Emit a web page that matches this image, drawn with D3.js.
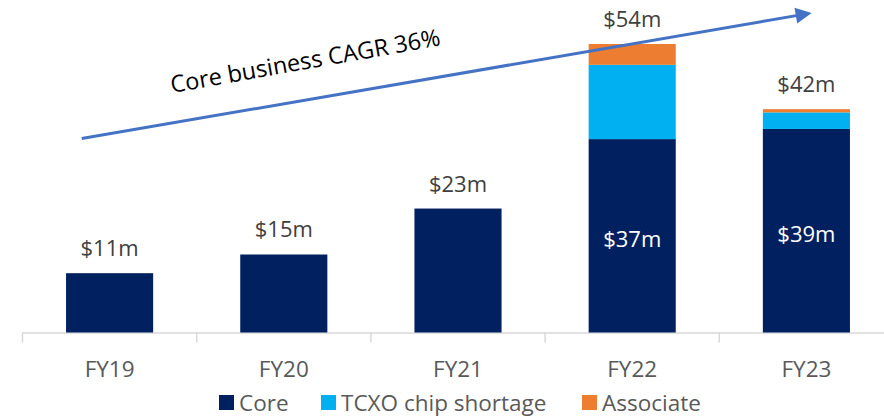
<!DOCTYPE html>
<html>
<head>
<meta charset="utf-8">
<script src="https://cdn.jsdelivr.net/npm/d3@7"></script>
<style>
  html, body { margin: 0; padding: 0; background: #fff; }
  svg { display: block; font-family: 'Segoe UI', 'Open Sans', sans-serif; }
</style>
</head>
<body>
<svg id="chart" width="884" height="418"></svg>
<script>
const categories = ["FY19", "FY20", "FY21", "FY22", "FY23"];
const coreValues = [11.1, 14.6, 23.2, 36.2, 38.1];
const tcxoValues = [0, 0, 0, 13.9, 3.1];
const associateValues = [0, 0, 0, 3.9, 0.6];
const totalLabels = ["$11m", "$15m", "$23m", "$54m", "$42m"];
const coreLabels = ["", "", "", "$37m", "$39m"];
const seriesNames = ["Core", "TCXO chip shortage", "Associate"];
const seriesColors = ["#002060", "#00B0F0", "#ED7D31"];
const annotationText = "Core business CAGR 36%";
// arrow endpoints in data units: [category index, value]
const arrowStart = [-0.16, 36.3];
const arrowEnd = [4.03, 59.8];

const svg = d3.select("#chart");
const baseY = 332.5;
const x = d3.scaleBand().domain(categories).range([22.5, 893.5]).paddingInner(0.5).paddingOuter(0.25);
const y = d3.scaleLinear().domain([0, 54]).range([baseY, 44]);
const xi = d3.scaleLinear().domain([0, 4]).range([x(categories[0]) + x.bandwidth() / 2, x(categories[4]) + x.bandwidth() / 2]);

const rows = categories.map((c, i) => ({ cat: c, Core: coreValues[i], "TCXO chip shortage": tcxoValues[i], Associate: associateValues[i] }));
const stacked = d3.stack().keys(seriesNames)(rows);

// axis line & ticks
const axisG = svg.append("g");
axisG.append("line").attr("x1", x.range()[0]).attr("x2", 884).attr("y1", baseY + 0.5).attr("y2", baseY + 0.5)
  .attr("stroke", "#D9D9D9").attr("stroke-width", 1.5);
const bounds = d3.range(categories.length + 1).map(i => x.range()[0] + i * x.step());
axisG.selectAll("line.tick").data(bounds).join("line").attr("class", "tick")
  .attr("x1", d => d).attr("x2", d => d).attr("y1", baseY).attr("y2", baseY + 10)
  .attr("stroke", "#D9D9D9").attr("stroke-width", 1.5);
axisG.selectAll("text.cat").data(categories).join("text").attr("class", "cat")
  .attr("x", d => x(d) + x.bandwidth() / 2).attr("y", 377)
  .attr("text-anchor", "middle").attr("font-size", 22.5).attr("fill", "#595959").text(d => d);

// bars
stacked.forEach((s, si) => {
  svg.append("g").selectAll("rect").data(s).join("rect")
    .attr("x", d => x(d.data.cat)).attr("width", x.bandwidth())
    .attr("y", d => y(d[1])).attr("height", d => Math.max(0, y(d[0]) - y(d[1])))
    .attr("fill", seriesColors[si]);
});

// total labels
const totals = categories.map((c, i) => coreValues[i] + tcxoValues[i] + associateValues[i]);
svg.append("g").selectAll("text").data(categories).join("text")
  .attr("x", d => x(d) + x.bandwidth() / 2)
  .attr("y", (d, i) => y(totals[i]) - 17)
  .attr("text-anchor", "middle").attr("font-size", 22).attr("fill", "#404040")
  .text((d, i) => totalLabels[i]);

// core labels inside
svg.append("g").selectAll("text").data(categories).join("text")
  .attr("x", d => x(d) + x.bandwidth() / 2)
  .attr("y", (d, i) => (y(0) + y(coreValues[i])) / 2 + 11)
  .attr("text-anchor", "middle").attr("font-size", 22).attr("fill", "#ffffff")
  .text((d, i) => coreLabels[i]);

// arrow
const x1 = xi(arrowStart[0]), y1 = y(arrowStart[1]);
const x2 = xi(arrowEnd[0]), y2 = y(arrowEnd[1]);
const ang = Math.atan2(y2 - y1, x2 - x1);
const headLen = 16, headHalf = 8;
const bx = x2 - headLen * Math.cos(ang), by = y2 - headLen * Math.sin(ang);
svg.append("line").attr("x1", x1).attr("y1", y1).attr("x2", bx + 2 * Math.cos(ang)).attr("y2", by + 2 * Math.sin(ang))
  .attr("stroke", "#4472C4").attr("stroke-width", 3);
svg.append("path")
  .attr("d", `M${x2},${y2} L${bx - headHalf * Math.sin(ang)},${by + headHalf * Math.cos(ang)} L${bx + headHalf * Math.sin(ang)},${by - headHalf * Math.cos(ang)} Z`)
  .attr("fill", "#4472C4");

// annotation text
svg.append("text").attr("transform", `translate(172,93) rotate(${ang * 180 / Math.PI - 0.3})`)
  .attr("font-size", 23.5).attr("fill", "#000").text(annotationText);

// legend
const legendItems = [{ name: seriesNames[0], x: 219 }, { name: seriesNames[1], x: 321 }, { name: seriesNames[2], x: 582 }];
const lg = svg.append("g");
legendItems.forEach((it, i) => {
  lg.append("rect").attr("x", it.x).attr("y", 395).attr("width", 15).attr("height", 15).attr("fill", seriesColors[i]);
  lg.append("text").attr("x", it.x + 20).attr("y", 411).attr("font-size", 22.5).attr("fill", "#595959").text(it.name);
});
</script>
</body>
</html>
